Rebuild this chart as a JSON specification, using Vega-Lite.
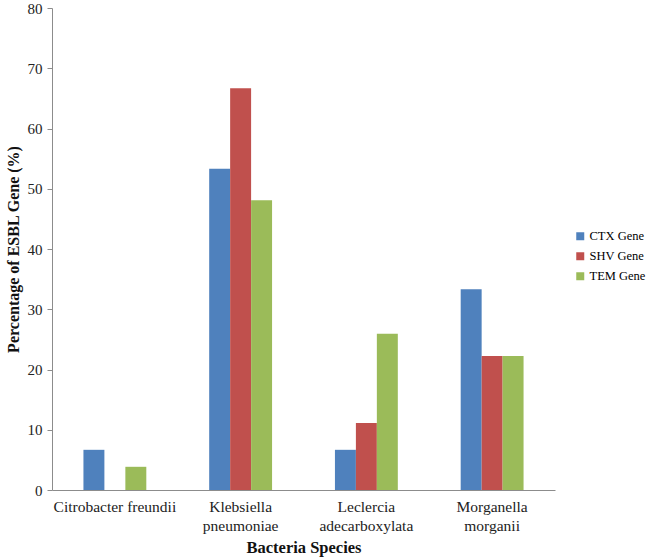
{
  "$schema": "https://vega.github.io/schema/vega-lite/v6.json",
  "autosize": "none",
  "width": 503,
  "height": 482,
  "padding": {"left": 52, "top": 8, "right": 109, "bottom": 69},
  "background": "white",
  "config": {
    "view": {"stroke": null},
    "font": "Liberation Serif",
    "axis": {"labelFont": "Liberation Serif", "titleFont": "Liberation Serif", "domainColor": "#8c8c8c", "tickColor": "#8c8c8c", "labelColor": "#222", "titleColor": "#111"}
  },
  "data": {
    "values": [
      {"species": "Citrobacter freundii", "gene": "CTX Gene", "value": 6.67},
      {"species": "Citrobacter freundii", "gene": "TEM Gene", "value": 3.85},
      {"species": "Klebsiella pneumoniae", "gene": "CTX Gene", "value": 53.33},
      {"species": "Klebsiella pneumoniae", "gene": "SHV Gene", "value": 66.67},
      {"species": "Klebsiella pneumoniae", "gene": "TEM Gene", "value": 48.1},
      {"species": "Leclercia adecarboxylata", "gene": "CTX Gene", "value": 6.67},
      {"species": "Leclercia adecarboxylata", "gene": "SHV Gene", "value": 11.11},
      {"species": "Leclercia adecarboxylata", "gene": "TEM Gene", "value": 25.93},
      {"species": "Morganella morganii", "gene": "CTX Gene", "value": 33.33},
      {"species": "Morganella morganii", "gene": "SHV Gene", "value": 22.22},
      {"species": "Morganella morganii", "gene": "TEM Gene", "value": 22.22}
    ]
  },
  "mark": {"type": "bar"},
  "encoding": {
    "x": {
      "field": "species", "type": "nominal",
      "scale": {"paddingInner": 0.5, "paddingOuter": 0.25},
      "axis": {
        "title": "Bacteria Species", "titleFontSize": 16.5, "titleFontWeight": "bold", "titlePadding": 6,
        "labelAngle": 0, "labelFontSize": 15.5, "ticks": false, "labelPadding": 9, "labelLineHeight": 19,
        "labelExpr": "datum.label == 'Citrobacter freundii' ? datum.label : split(datum.label, ' ')"
      }
    },
    "xOffset": {"field": "gene", "type": "nominal", "scale": {"domain": ["CTX Gene", "SHV Gene", "TEM Gene"]}},
    "y": {
      "field": "value", "type": "quantitative",
      "scale": {"domain": [0, 80]},
      "axis": {"title": "Percentage of ESBL Gene (%)", "titleFontSize": 16, "titleFontWeight": "bold", "titlePadding": 6,
        "values": [0,10,20,30,40,50,60,70,80], "grid": false, "labelFontSize": 15, "tickSize": 5, "labelPadding": 5}
    },
    "color": {
      "field": "gene", "type": "nominal",
      "scale": {"domain": ["CTX Gene", "SHV Gene", "TEM Gene"], "range": ["#4F81BD", "#C0504D", "#9BBB59"]},
      "legend": {"title": null, "orient": "none", "legendX": 522, "legendY": 222, "symbolType": "square", "symbolSize": 64, "labelFontSize": 12.5, "labelFont": "Liberation Serif", "rowPadding": 7, "labelOffset": 3}
    }
  }
}
